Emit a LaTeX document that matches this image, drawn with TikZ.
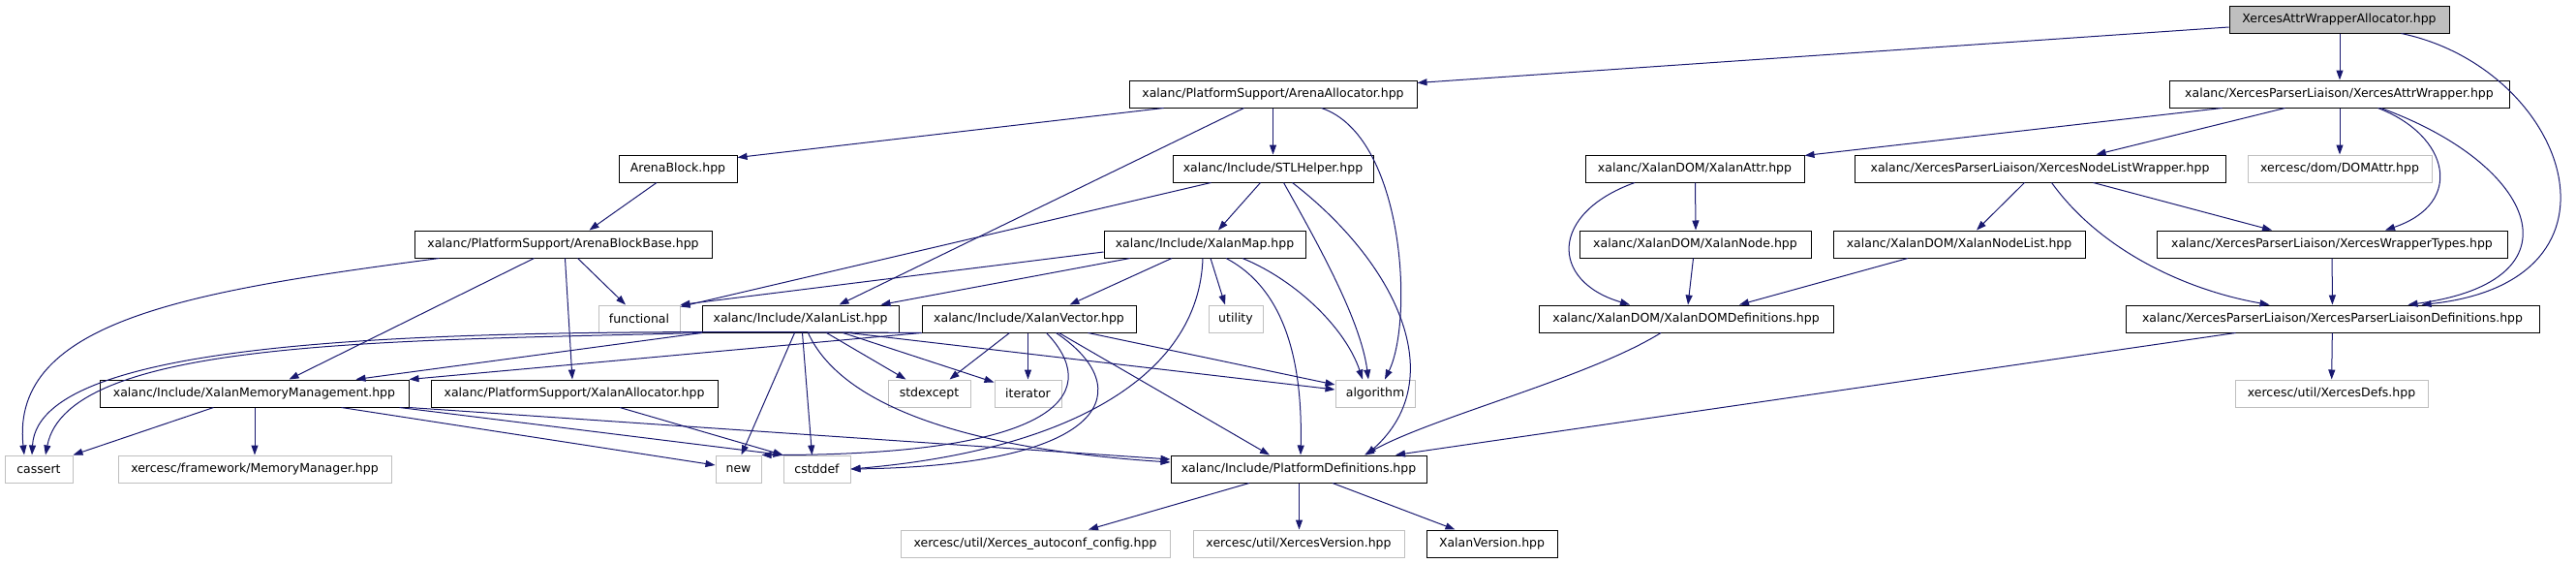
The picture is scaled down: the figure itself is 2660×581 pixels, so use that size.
\documentclass[tikz,border=0pt]{standalone}
\usepackage{fontspec}
\usetikzlibrary{arrows.meta}
\newfontfamily\dejavu{DejaVu Sans}
\definecolor{EdgeClr}{HTML}{191970}
\definecolor{SysClr}{HTML}{BFBFBF}

\tikzset{
  hdr/.style={draw=black,line width=1pt,fill=white,minimum height=28pt,inner sep=0pt,
    font={\dejavu\fontsize{12.5}{14}\selectfont}},
  syshdr/.style={hdr,draw=SysClr},
  roothdr/.style={hdr,fill=SysClr},
  dep/.style={draw=EdgeClr,line width=1pt,-{Triangle[length=10pt,width=7pt]}}
}

\begin{document}
\begin{tikzpicture}[x=1pt,y=-1pt]
\useasboundingbox (0,0) rectangle (2660,581);

% headers, row by row
\node[roothdr,minimum width=227pt] (root) at (2415.5,20) {XercesAttrWrapperAllocator.hpp};

\node[hdr,minimum width=297pt] (arenaAlloc) at (1314.5,97) {xalanc/PlatformSupport/ArenaAllocator.hpp};
\node[hdr,minimum width=351pt] (attrWrapper) at (2415.5,97) {xalanc/XercesParserLiaison/XercesAttrWrapper.hpp};

\node[hdr,minimum width=122pt] (arenaBlock) at (700,174) {ArenaBlock.hpp};
\node[hdr,minimum width=207pt] (stlHelper) at (1314.5,174) {xalanc/Include/STLHelper.hpp};
\node[hdr,minimum width=226pt] (xalanAttr) at (1750,174) {xalanc/XalanDOM/XalanAttr.hpp};
\node[hdr,minimum width=383pt] (nodeListWrapper) at (2106.5,174) {xalanc/XercesParserLiaison/XercesNodeListWrapper.hpp};
\node[syshdr,minimum width=190pt] (domAttr) at (2416,174) {xercesc/dom/DOMAttr.hpp};

\node[hdr,minimum width=307pt] (arenaBlockBase) at (581.5,252) {xalanc/PlatformSupport/ArenaBlockBase.hpp};
\node[hdr,minimum width=208pt] (xalanMap) at (1244,252) {xalanc/Include/XalanMap.hpp};
\node[hdr,minimum width=239pt] (xalanNode) at (1750.5,252) {xalanc/XalanDOM/XalanNode.hpp};
\node[hdr,minimum width=260pt] (xalanNodeList) at (2023,252) {xalanc/XalanDOM/XalanNodeList.hpp};
\node[hdr,minimum width=362pt] (wrapperTypes) at (2408,252) {xalanc/XercesParserLiaison/XercesWrapperTypes.hpp};

\node[syshdr,minimum width=84pt] (functional) at (660,329) {functional};
\node[hdr,minimum width=203pt] (xalanList) at (826.5,329) {xalanc/Include/XalanList.hpp};
\node[hdr,minimum width=221pt] (xalanVector) at (1062.5,329) {xalanc/Include/XalanVector.hpp};
\node[syshdr,minimum width=56pt] (utility) at (1276,329) {utility};
\node[hdr,minimum width=304pt] (domDefs) at (1741,329) {xalanc/XalanDOM/XalanDOMDefinitions.hpp};
\node[hdr,minimum width=427pt] (liaisonDefs) at (2408.5,329) {xalanc/XercesParserLiaison/XercesParserLiaisonDefinitions.hpp};

\node[hdr,minimum width=319pt] (memMgmt) at (262.5,406) {xalanc/Include/XalanMemoryManagement.hpp};
\node[hdr,minimum width=296pt] (xalanAllocator) at (593,406) {xalanc/PlatformSupport/XalanAllocator.hpp};
\node[syshdr,minimum width=85pt] (stdexcept) at (959.5,406) {stdexcept};
\node[syshdr,minimum width=69pt] (iterator) at (1061.5,406) {iterator};
\node[syshdr,minimum width=82pt] (algorithm) at (1420,406) {algorithm};
\node[syshdr,minimum width=199pt] (xercesDefs) at (2407.5,406) {xercesc/util/XercesDefs.hpp};

\node[syshdr,minimum width=70pt] (cassert) at (40,484) {cassert};
\node[syshdr,minimum width=282pt] (memManager) at (263,484) {xercesc/framework/MemoryManager.hpp};
\node[syshdr,minimum width=47pt] (new) at (762.5,484) {new};
\node[syshdr,minimum width=69pt] (cstddef) at (843.5,484) {cstddef};
\node[hdr,minimum width=264pt] (platformDefs) at (1341,484) {xalanc/Include/PlatformDefinitions.hpp};

\node[syshdr,minimum width=278pt] (autoconf) at (1069,561) {xercesc/util/Xerces\_autoconf\_config.hpp};
\node[syshdr,minimum width=218pt] (xercesVersion) at (1341,561) {xercesc/util/XercesVersion.hpp};
\node[hdr,minimum width=135pt] (xalanVersion) at (1540.5,561) {XalanVersion.hpp};

% root
\draw[dep] ([yshift=-8pt]root.west) -- ([yshift=-3pt]arenaAlloc.north east);
\draw[dep] ([xshift=0.5pt]root.south) -- ([xshift=0.5pt]attrWrapper.north);
\draw[dep] ([xshift=64pt]root.south) .. controls (2650,70) and (2730,290) .. ([xshift=92pt]liaisonDefs.north);

% arena allocator
\draw[dep] ([xshift=-113pt]arenaAlloc.south) -- ([yshift=-3pt]arenaBlock.north east);
\draw[dep] ([xshift=-30pt]arenaAlloc.south) -- ([xshift=40pt]xalanList.north);
\draw[dep] (arenaAlloc) -- (stlHelper);
\draw[dep] ([xshift=50pt]arenaAlloc.south) .. controls (1450,140) and (1460,330) .. ([xshift=10pt]algorithm.north);
\draw[dep] ([xshift=-22pt]arenaBlock.south) -- ([xshift=27pt]arenaBlockBase.north);

% STLHelper
\draw[dep] ([xshift=-64pt]stlHelper.south) -- ([yshift=-2pt]functional.north east);
\draw[dep] ([xshift=-13pt]stlHelper.south) -- ([xshift=14pt]xalanMap.north);
\draw[dep] ([xshift=11pt]stlHelper.south) .. controls (1360,250) and (1405,330) .. ([xshift=-7pt]algorithm.north);
\draw[dep] ([xshift=20pt]stlHelper.south) .. controls (1440,270) and (1500,390) .. ([xshift=70pt]platformDefs.north);

% XalanMap
\draw[dep] ([yshift=-8pt]xalanMap.west) -- (functional.north east);
\draw[dep] ([xshift=-77pt]xalanMap.south) -- ([xshift=83pt]xalanList.north);
\draw[dep] ([xshift=-34pt]xalanMap.south) -- ([xshift=42pt]xalanVector.north);
\draw[dep] ([xshift=6pt]xalanMap.south) -- ([xshift=-11pt]utility.north);
\draw[dep] ([xshift=-2pt]xalanMap.south) .. controls (1238,390) and (1100,465) .. (cstddef.east);
\draw[dep] ([xshift=22pt]xalanMap.south) .. controls (1330,300) and (1345,380) .. ([xshift=2pt]platformDefs.north);
\draw[dep] ([xshift=39pt]xalanMap.south) .. controls (1340,290) and (1390,340) .. ([xshift=-13pt]algorithm.north);

% XalanList
\draw[dep] (xalanList.south west) -- ([xshift=105pt]memMgmt.north);
\draw[dep] (xalanList.south west) .. controls (400,352) and (70,350) .. ([xshift=7pt]cassert.north);
\draw[dep] ([xshift=-6pt]xalanList.south) -- ([xshift=3pt]new.north);
\draw[dep] ([xshift=2pt]xalanList.south) -- ([xshift=-5pt]cstddef.north);
\draw[dep] ([xshift=8pt]xalanList.south) .. controls (860,400) and (950,460) .. ([yshift=7pt]platformDefs.west);
\draw[dep] ([xshift=27pt]xalanList.south) -- ([xshift=-24pt]stdexcept.north);
\draw[dep] ([xshift=44pt]xalanList.south) -- ([yshift=-3pt]iterator.north west);
\draw[dep] ([xshift=50pt]xalanList.south) -- ([yshift=4pt]algorithm.west);

% XalanVector
\draw[dep] (xalanVector.south west) -- (memMgmt.north east);
\draw[dep] (xalanVector.south west) .. controls (500,340) and (40,340) .. ([xshift=-7pt]cassert.north);
\draw[dep] ([xshift=-20pt]xalanVector.south) -- ([xshift=21pt]stdexcept.north);
\draw[dep] ([xshift=-1pt]xalanVector.south) -- (iterator.north);
\draw[dep] ([xshift=18pt]xalanVector.south) .. controls (1135,400) and (1110,470) .. (new.north east);
\draw[dep] ([xshift=28pt]xalanVector.south) .. controls (1175,400) and (1150,480) .. (cstddef.east);
\draw[dep] ([xshift=31pt]xalanVector.south) -- ([xshift=-30pt]platformDefs.north);
\draw[dep] ([xshift=61pt]xalanVector.south) -- ([yshift=9pt]algorithm.west);

% ArenaBlockBase
\draw[dep] ([xshift=-128pt]arenaBlockBase.south) .. controls (200,300) and (10,330) .. ([xshift=-15pt]cassert.north);
\draw[dep] ([xshift=-30pt]arenaBlockBase.south) -- ([xshift=36pt]memMgmt.north);
\draw[dep] ([xshift=2pt]arenaBlockBase.south) -- ([xshift=-2pt]xalanAllocator.north);
\draw[dep] ([xshift=15pt]arenaBlockBase.south) -- ([xshift=-14pt]functional.north);

% memory management, allocator
\draw[dep] ([xshift=-42pt]memMgmt.south) -- (cassert.north east);
\draw[dep] ([xshift=0.5pt]memMgmt.south) -- (memManager.north);
\draw[dep] ([xshift=90pt]memMgmt.south) -- ([yshift=4pt]new.west);
\draw[dep] ([xshift=-10pt]memMgmt.south east) -- (cstddef.north west);
\draw[dep] (memMgmt.south east) -- ([yshift=10pt]platformDefs.west);
\draw[dep] ([xshift=47pt]xalanAllocator.south) -- (cstddef.north west);

% PlatformDefinitions
\draw[dep] ([xshift=-51pt]platformDefs.south) -- ([xshift=55pt]autoconf.north);
\draw[dep] ([xshift=0.5pt]platformDefs.south) -- ([xshift=0.5pt]xercesVersion.north);
\draw[dep] ([xshift=35pt]platformDefs.south) -- ([xshift=-38pt]xalanVersion.north);

% XercesAttrWrapper
\draw[dep] ([xshift=-121pt]attrWrapper.south) -- ([yshift=-1pt]xalanAttr.north east);
\draw[dep] ([xshift=-56pt]attrWrapper.south) -- ([xshift=58pt]nodeListWrapper.north);
\draw[dep] ([xshift=0.5pt]attrWrapper.south) -- (domAttr.north);
\draw[dep] ([xshift=40pt]attrWrapper.south) .. controls (2530,140) and (2545,210) .. ([xshift=55pt]wrapperTypes.north);
\draw[dep] ([xshift=43pt]attrWrapper.south) .. controls (2620,170) and (2670,290) .. ([xshift=78pt]liaisonDefs.north);

% DOM side
\draw[dep] ([xshift=0.5pt]xalanAttr.south) -- ([xshift=0.5pt]xalanNode.north);
\draw[dep] ([xshift=-62pt]xalanAttr.south) .. controls (1600,220) and (1600,290) .. ([xshift=-58pt]domDefs.north);
\draw[dep] ([xshift=-2pt]xalanNode.south) -- ([xshift=2pt]domDefs.north);
\draw[dep] ([xshift=-16pt]nodeListWrapper.south) -- ([xshift=18pt]xalanNodeList.north);
\draw[dep] ([xshift=55pt]nodeListWrapper.south) -- ([xshift=-62pt]wrapperTypes.north);
\draw[dep] ([xshift=12pt]nodeListWrapper.south) .. controls (2170,260) and (2260,300) .. ([xshift=-65pt]liaisonDefs.north);
\draw[dep] ([xshift=-53pt]xalanNodeList.south) -- ([xshift=55pt]domDefs.north);
\draw[dep] (wrapperTypes) -- (liaisonDefs);
\draw[dep] ([xshift=-26pt]domDefs.south) .. controls (1640,390) and (1480,430) .. ([xshift=68pt]platformDefs.north);
\draw[dep] ([xshift=-100pt]liaisonDefs.south) -- ([xshift=100pt]platformDefs.north);
\draw[dep] (liaisonDefs) -- (xercesDefs);

\end{tikzpicture}
\end{document}
